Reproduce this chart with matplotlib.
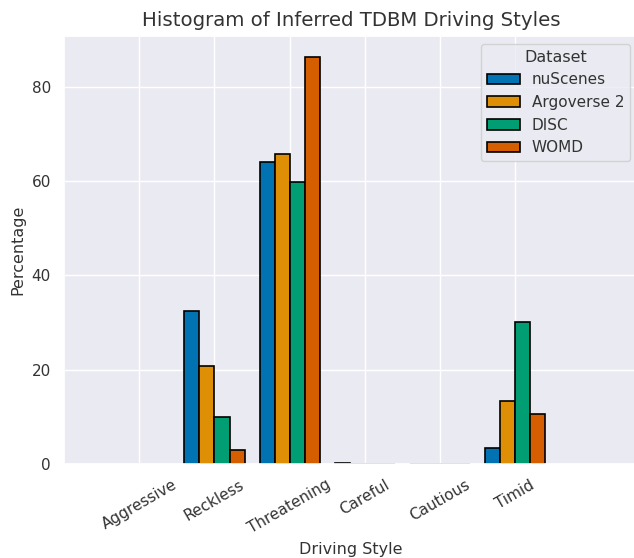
"""Grouped bar chart of inferred TDBM driving styles per dataset."""

import matplotlib

matplotlib.use("Agg")
import matplotlib.pyplot as plt
import numpy as np
import seaborn as sns


STYLES = ["Aggressive", "Reckless", "Threatening", "Careful", "Cautious", "Timid"]
DATASETS = ["nuScenes", "Argoverse 2", "DISC", "WOMD"]

# percentage of agents per style, one list per dataset
NUSCENES = [0.0, 32.5, 64.0, 0.2, 0.05, 3.3]
ARGOVERSE2 = [0.0, 20.7, 65.8, 0.05, 0.05, 13.4]
DISC = [0.0, 10.0, 59.8, 0.05, 0.05, 30.1]
WOMD = [0.0, 2.9, 86.4, 0.05, 0.05, 10.7]

COLORS = ["#0173b2", "#de8f05", "#029e73", "#d55e00"]


def main() -> None:
    sns.set_theme(style="darkgrid")
    plt.rcParams["font.family"] = ["DejaVu Sans"]
    plt.rcParams["text.color"] = ".2"
    plt.rcParams["axes.labelcolor"] = ".2"
    plt.rcParams["xtick.color"] = ".2"
    plt.rcParams["ytick.color"] = ".2"

    W, H = 634, 558
    fig = plt.figure(figsize=(W / 100, H / 100), dpi=100)
    ax = fig.add_axes([64 / W, (H - 464) / H, (638 - 64) / W, (464 - 36) / H])

    x = np.arange(len(STYLES))
    width = 0.2
    series = [NUSCENES, ARGOVERSE2, DISC, WOMD]
    for i, (name, vals, color) in enumerate(zip(DATASETS, series, COLORS)):
        vals = np.asarray(vals, dtype=float)
        shown = vals > 0
        ax.bar(x[shown] + (i - 1.5) * width, vals[shown], width=width, color=color,
               edgecolor="black", linewidth=1.2, label=name)

    ax.set_xticks(x)
    ax.set_xticklabels(STYLES, rotation=30, fontsize=11)
    ax.set_xlim(-1.0, 6.63)
    ax.set_ylim(0, 90.75)
    ax.set_xlabel("Driving Style", fontsize=11.5)
    ax.set_ylabel("Percentage", fontsize=11.5)
    ax.set_title("Histogram of Inferred TDBM Driving Styles", fontsize=14.2, pad=7)
    ax.legend(title="Dataset", loc="upper right", fontsize=11, title_fontsize=11.5,
              handlelength=2.1)

    fig.savefig("out.png", dpi=100)


if __name__ == "__main__":
    main()
